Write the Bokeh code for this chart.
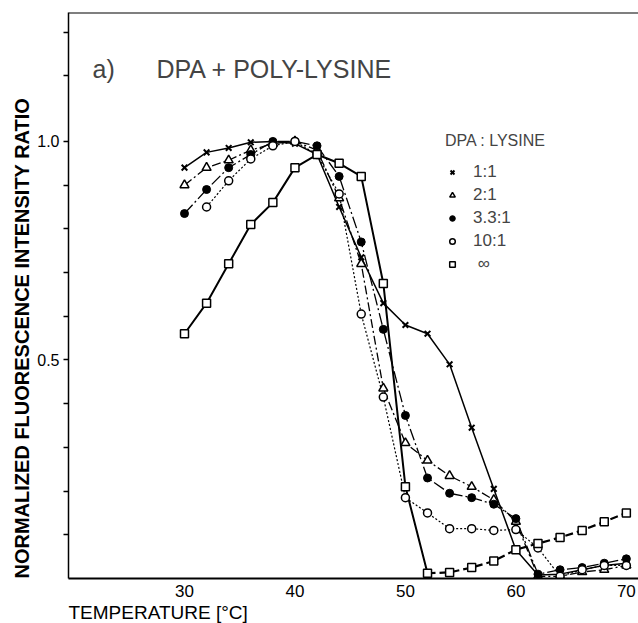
from bokeh.plotting import figure
from bokeh.models import Range1d, FixedTicker, Label, Legend, LegendItem, Span, Title
from bokeh.embed import file_html
from bokeh.resources import INLINE

# ---- data ----
temp = [30, 32, 34, 36, 38, 40, 42, 44, 46, 48, 50, 52, 54, 56, 58, 60, 62, 64, 66, 68, 70]
ratio_1_1 = [0.94, 0.975, 0.985, 0.998, 1.0, 0.995, 0.97, 0.85, 0.735, 0.63, 0.58, 0.56,
             0.49, 0.345, 0.205, 0.066, 0.008, 0.01, 0.02, 0.03, 0.035]
ratio_2_1 = [0.90, 0.94, 0.957, 0.98, 0.995, 1.0, 0.98, 0.87, 0.72, 0.435, 0.31, 0.27,
             0.235, 0.21, 0.18, 0.13, 0.005, 0.005, 0.015, 0.02, 0.03]
ratio_3_3_1 = [0.835, 0.89, 0.94, 0.97, 1.0, 1.0, 0.99, 0.92, 0.77, 0.57, 0.373, 0.23,
               0.195, 0.185, 0.17, 0.137, 0.01, 0.02, 0.025, 0.035, 0.045]
temp_10 = [32, 34, 36, 38, 40, 42, 44, 46, 48, 50, 52, 54, 56, 58, 60, 62, 64, 66, 68, 70]
ratio_10_1 = [0.85, 0.91, 0.96, 0.99, 1.0, 0.97, 0.88, 0.605, 0.415, 0.185, 0.15, 0.114,
              0.114, 0.11, 0.112, 0.07, 0.005, 0.02, 0.03, 0.03]
ratio_inf = [0.56, 0.63, 0.72, 0.81, 0.86, 0.94, 0.97, 0.95, 0.92, 0.675, 0.21, 0.012,
             0.014, 0.025, 0.04, 0.066, 0.08, 0.094, 0.11, 0.13, 0.15]
legend_labels = ["1:1", "2:1", "3.3:1", "10:1", " \u221e"]
x_ticks = [30, 40, 50, 60, 70]
y_ticks = [0.1, 0.2, 0.3, 0.4, 0.5, 0.6, 0.7, 0.8, 0.9, 1.0, 1.15, 1.25]
y_tick_labels = {0.5: "0.5", 1.0: "1.0"}

FONT = "Liberation Sans"

p = figure(width=638, height=623, output_backend="svg", toolbar_location=None,
           x_range=Range1d(19.5, 71.1), y_range=Range1d(0, 1.295),
           min_border_left=68, min_border_right=0, min_border_top=12, min_border_bottom=45)
p.outline_line_color = None
p.grid.visible = False
p.background_fill_color = "white"

# axes
xa = p.xaxis[0]
xa.ticker = FixedTicker(ticks=x_ticks)
xa.major_tick_out = 0
xa.major_tick_in = 0
xa.minor_tick_line_color = None
xa.axis_line_width = 2
xa.axis_line_color = "black"
xa.major_label_text_font = FONT
xa.major_label_text_font_size = "17px"
xa.major_label_text_color = "black"
xa.major_label_standoff = 6

ya = p.yaxis[0]
ya.ticker = FixedTicker(ticks=y_ticks)
ya.major_label_overrides = {t: y_tick_labels.get(t, "") for t in y_ticks}
ya.major_tick_out = 5
ya.major_tick_in = 0
ya.major_tick_line_width = 1.5
ya.minor_tick_line_color = None
ya.axis_line_width = 1.5
ya.axis_line_color = "black"
ya.major_label_text_font = FONT
ya.major_label_text_font_size = "16px"
ya.major_label_text_color = "black"
ya.major_label_standoff = 4

p.add_layout(Span(location=1.295, dimension="width", line_color="black", line_width=2))

# axis titles
p.add_layout(Title(text="TEMPERATURE [\u00b0C]", align="left", standoff=0,
                   text_font=FONT, text_font_size="19px", text_font_style="normal",
                   text_color="black"), "below")
p.add_layout(Title(text="NORMALIZED FLUORESCENCE INTENSITY RATIO", align="left", standoff=4,
                   text_font=FONT, text_font_size="20px", text_font_style="bold",
                   text_color="black"), "left")

# lines
p.line(temp, ratio_1_1, line_color="black", line_width=1.5)
p.line(temp, ratio_2_1, line_color="black", line_width=1.3, line_dash="9 3 2 3")
p.line(temp, ratio_3_3_1, line_color="black", line_width=1.3, line_dash="12 3 2 3")
p.line(temp_10, ratio_10_1, line_color="black", line_width=1.2, line_dash="2 2")
p.line(temp[:12], ratio_inf[:12], line_color="black", line_width=2)
p.line(temp[11:], ratio_inf[11:], line_color="black", line_width=2.2, line_dash="8 4")

# markers
r1 = p.scatter(temp, ratio_1_1, marker="x", size=8, line_color="black", line_width=2)
r2 = p.scatter(temp, ratio_2_1, marker="triangle", size=9, line_color="black",
               fill_color="white", line_width=1.5)
r3 = p.scatter(temp, ratio_3_3_1, marker="circle", size=8, line_color="black",
               fill_color="black", line_width=1)
r4 = p.scatter(temp_10, ratio_10_1, marker="circle", size=8, line_color="black",
               fill_color="white", line_width=1.5)
r5 = p.scatter(temp, ratio_inf, marker="square", size=8, line_color="black",
               fill_color="white", line_width=1.5)

legend = Legend(items=[LegendItem(label=l, renderers=[r]) for l, r in
                       zip(legend_labels, [r1, r2, r3, r4, r5])],
                title="DPA : LYSINE", location=(377, 304))
legend.border_line_color = None
legend.background_fill_alpha = 0
legend.label_text_font = FONT
legend.label_text_font_size = "17px"
legend.title_text_font = FONT
legend.title_text_font_size = "16px"
legend.title_text_font_style = "normal"
legend.glyph_width = 14
legend.glyph_height = 18
legend.label_height = 18
legend.spacing = 3
legend.padding = 0
legend.margin = 0
legend.label_standoff = 14
legend.title_standoff = 12
p.add_layout(legend)

# panel title
p.add_layout(Label(x=24, y=510, x_units="screen", y_units="screen", text="a)",
                   text_font=FONT, text_font_size="25px", text_baseline="middle"))
p.add_layout(Label(x=88, y=510, x_units="screen", y_units="screen", text="DPA + POLY-LYSINE",
                   text_font=FONT, text_font_size="25px", text_baseline="middle"))

open("out.html", "w").write(file_html(p, INLINE))
